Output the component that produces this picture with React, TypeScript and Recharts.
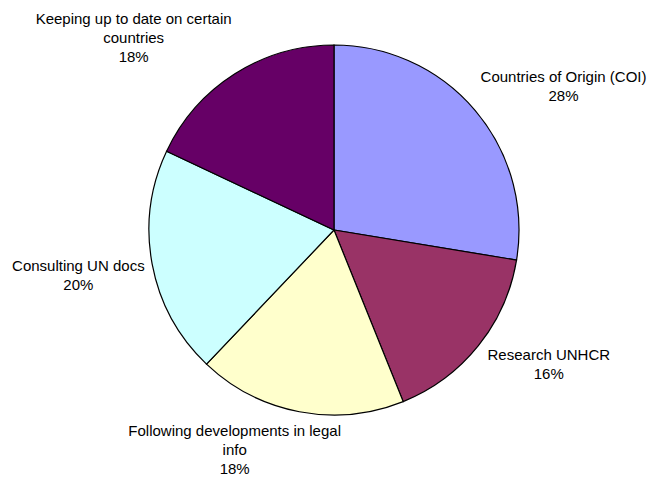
import React from 'react';
import { PieChart, Pie, Cell } from 'recharts';

const categories = [
  'Countries of Origin (COI)',
  'Research UNHCR',
  'Following developments in legal info',
  'Consulting UN docs',
  'Keeping up to date on certain countries',
];
const shares = [27.6, 16.3, 18.2, 19.9, 18.0];
const colors = ['#9999FF', '#993366', '#FFFFCC', '#CCFFFF', '#660066'];

const data = categories.map((name, i) => ({ name, value: shares[i] }));

const FONT = '15px "Liberation Sans", Arial, sans-serif';
const LINE_H = 19;
const GAP = 20;
// small hand tweaks so labels sit where the original placed them
const nudge = [
  [10, 0],
  [7, -7],
  [-41, -10],
  [11, 3],
  [-38, 4],
];

function wrap(text: string, max = 31) {
  const words = text.split(' ');
  const lines: string[] = [];
  let cur = '';
  words.forEach((w) => {
    const next = cur ? cur + ' ' + w : w;
    if (next.length > max && cur) {
      lines.push(cur);
      cur = w;
    } else cur = next;
  });
  if (cur) lines.push(cur);
  return lines;
}

let ctx: CanvasRenderingContext2D | null = null;
function textWidth(s: string) {
  if (!ctx) {
    ctx = document.createElement('canvas').getContext('2d');
    if (ctx) ctx.font = FONT;
  }
  return ctx ? ctx.measureText(s).width : s.length * 7;
}

const RAD = Math.PI / 180;

function renderLabel(props: any) {
  const { cx, cy, midAngle, outerRadius, percent, index, name } = props;
  const lines = [...wrap(name), `${Math.round(percent * 100)}%`];
  const dx = Math.cos(midAngle * RAD);
  const dy = -Math.sin(midAngle * RAD);
  const w = Math.max(...lines.map(textWidth));
  const h = lines.length * LINE_H;
  const px = cx + (outerRadius + GAP) * dx;
  const py = cy + (outerRadius + GAP) * dy;
  const bx = px + (w / 2) * dx + nudge[index][0];
  const by = py + (h / 2) * dy + nudge[index][1];
  const y0 = by - ((lines.length - 1) * LINE_H) / 2;
  return (
    <text
      key={`lbl-${index}`}
      x={bx}
      y={y0}
      textAnchor="middle"
      dominantBaseline="central"
      fill="#000"
      style={{ font: FONT }}
    >
      {lines.map((l, i) => (
        <tspan key={i} x={bx} y={y0 + i * LINE_H}>
          {l}
        </tspan>
      ))}
    </text>
  );
}

export default function App() {
  return (
    <div style={{ position: 'absolute', left: 0, top: 0, width: 648, height: 480, background: '#fff' }}>
      <PieChart width={648} height={480} margin={{ top: 0, right: 0, bottom: 0, left: 0 }}>
        <Pie
          data={data}
          dataKey="value"
          nameKey="name"
          cx={334}
          cy={230}
          outerRadius={185}
          startAngle={90}
          endAngle={-270}
          stroke="#000"
          strokeWidth={1.2}
          label={renderLabel}
          labelLine={false}
          isAnimationActive={false}
        >
          {data.map((entry, index) => (
            <Cell key={`cell-${index}`} fill={colors[index]} />
          ))}
        </Pie>
      </PieChart>
    </div>
  );
}
